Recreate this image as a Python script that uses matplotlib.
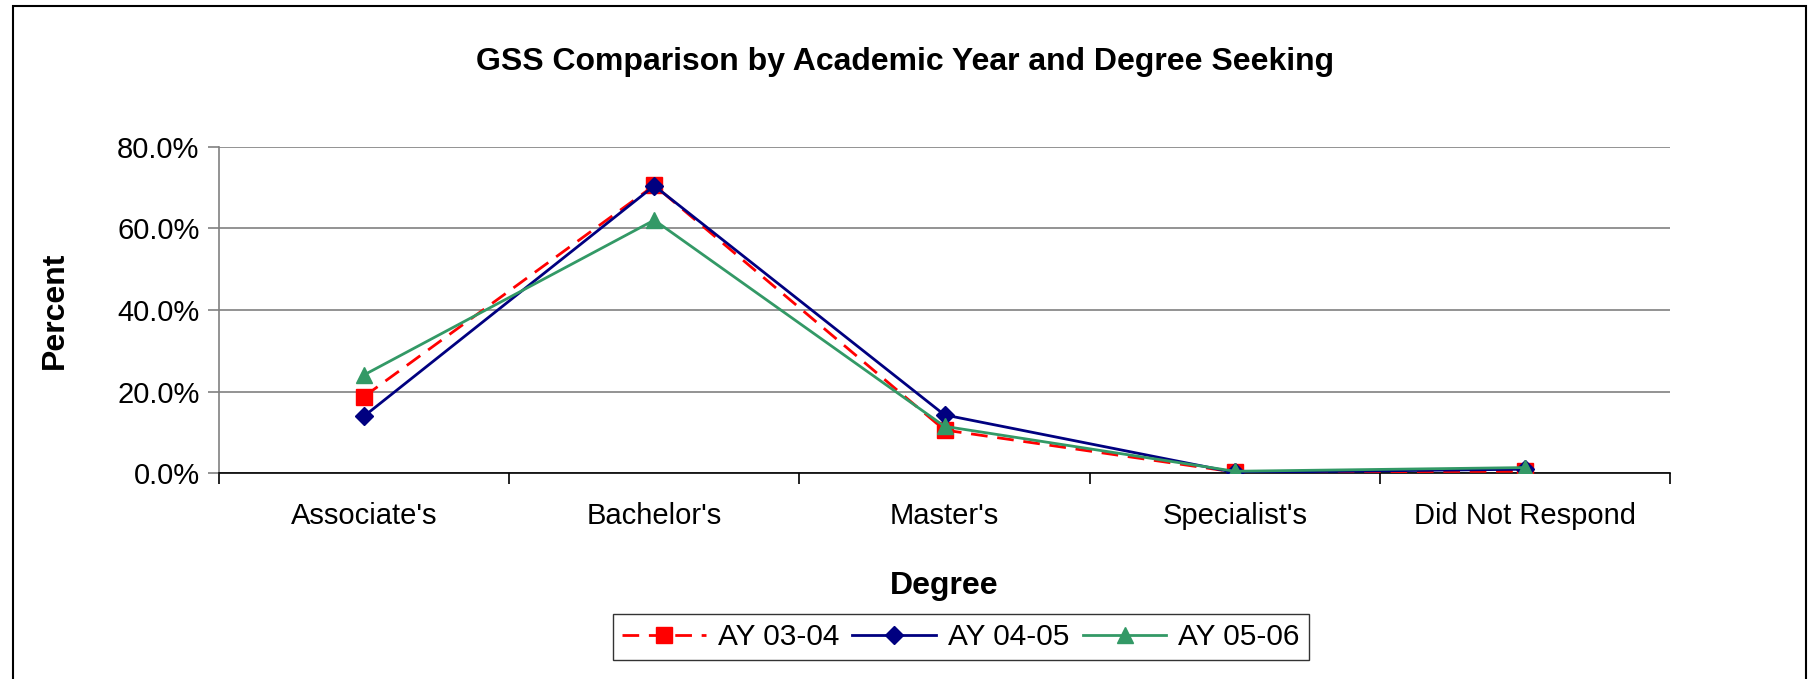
import matplotlib
matplotlib.use("Agg")
import matplotlib.pyplot as plt
from matplotlib.patches import Rectangle
from matplotlib.ticker import FuncFormatter, FixedLocator

categories = ["Associate's", "Bachelor's", "Master's", "Specialist's", "Did Not Respond"]
ay_03_04 = [18.8, 70.5, 10.6, 0.3, 0.5]
ay_04_05 = [14.0, 70.4, 14.3, 0.2, 1.0]
ay_05_06 = [24.1, 62.0, 11.5, 0.5, 1.4]
series_names = ["AY 03-04", "AY 04-05", "AY 05-06"]
yticks = [0, 20, 40, 60, 80]

plt.rcParams['font.family'] = ['Liberation Sans', 'DejaVu Sans']

W, H = 1810, 679
fig = plt.figure(figsize=(W / 100, H / 100), dpi=100)
ax = fig.add_axes([219 / W, 1 - 473.3 / H, (1670 - 219) / W, (473.3 - 146.6) / H])

x = list(range(len(categories)))
ax.plot(x, ay_03_04, color='#FF0000', lw=2.0, dashes=(6, 3.5), marker='s', ms=11,
        mfc='#FF0000', mec='#FF0000', label=series_names[0], zorder=3)
ax.plot(x, ay_04_05, color='#000080', lw=2.0, marker='D', ms=9,
        mfc='#000080', mec='#000080', label=series_names[1], zorder=4)
ax.plot(x, ay_05_06, color='#339966', lw=2.0, marker='^', ms=12,
        mfc='#339966', mec='#339966', label=series_names[2], zorder=5)

ax.set_xlim(-0.5, len(categories) - 0.5)
ax.set_ylim(0, 80)
ax.yaxis.set_major_locator(FixedLocator(yticks))
ax.yaxis.set_major_formatter(FuncFormatter(lambda v, p: f"{v:.1f}%"))
ax.grid(axis='y', color='#808080', lw=1.2)
ax.set_axisbelow(True)

ax.set_xticks([i - 0.5 for i in range(len(categories) + 1)])
ax.set_xticklabels([])
ax.set_xticks(x, minor=True)
ax.set_xticklabels(categories, minor=True, fontsize=21)
ax.tick_params(axis='x', which='minor', length=0, pad=21)
ax.tick_params(axis='x', which='major', length=8, width=1.2, color='black', direction='out')
ax.tick_params(axis='y', length=8, width=1.2, color='#808080', labelsize=21, pad=6)

for s in ['top', 'right']:
    ax.spines[s].set_visible(False)
ax.spines['left'].set_color('#808080')
ax.spines['left'].set_linewidth(1.2)
ax.spines['bottom'].set_color('black')
ax.spines['bottom'].set_linewidth(1.2)

fig.text(905 / W, 1 - 62 / H, "GSS Comparison by Academic Year and Degree Seeking",
         ha='center', va='center', fontsize=23, fontweight='bold')
fig.text(55 / W, 1 - 310 / H, "Percent", rotation=90, ha='center', va='center',
         fontsize=23, fontweight='bold')
fig.text(944 / W, 1 - 586 / H, "Degree", ha='center', va='center',
         fontsize=23, fontweight='bold')

leg = fig.legend(loc='center', bbox_to_anchor=(961 / W, 1 - 637 / H), ncol=3,
                 fontsize=21.5, frameon=True, fancybox=False, edgecolor='black',
                 handlelength=2.8, handletextpad=0.4, columnspacing=0.45,
                 borderpad=0.3)
leg.get_frame().set_linewidth(1.0)

fig.patches.append(Rectangle((13 / W, -0.01), (1806 - 13) / W, 1 - 6 / H + 0.01,
                             transform=fig.transFigure, fill=False,
                             edgecolor='black', lw=1.5))

fig.savefig("out.png", dpi=100)
